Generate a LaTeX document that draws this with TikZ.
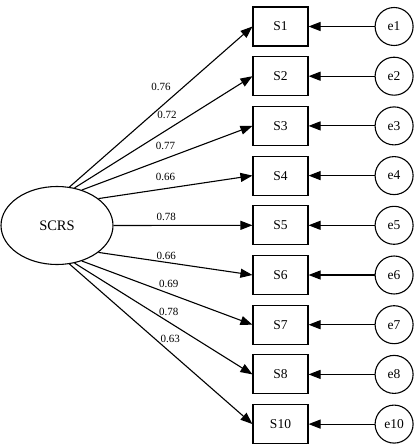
\documentclass[tikz,border=0pt]{standalone}
\usepackage{fontspec}
\setmainfont{Liberation Serif}
\usetikzlibrary{shapes.geometric, arrows.meta, positioning}
\tikzset{
    latent/.style={
        ellipse, minimum width=112pt, minimum height=78pt, inner sep=0pt,
        draw=black, line width=1.1pt, font=\fontsize{14.5}{16}\selectfont
    },
    observed/.style={
        rectangle, minimum width=55pt, minimum height=39pt, inner sep=0pt,
        draw=black, line width=1.1pt, font=\fontsize{13.5}{15}\selectfont
    },
    errvar/.style={
        circle, minimum size=38pt, inner sep=0pt,
        draw=black, line width=1.1pt, font=\fontsize{13.5}{15}\selectfont
    },
    regpath/.style={
        -{Triangle[length=12pt, width=9pt]}, line width=1.1pt, draw=black
    },
    loading/.style={
        inner sep=0pt, font=\fontsize{11}{12}\selectfont
    }
}

\begin{document}
\begin{tikzpicture}[x=1pt, y=-1pt, node distance=9.6pt and 66pt]
    \useasboundingbox (0,0) rectangle (419,448);

    % ── Latent factor ──
    \node[latent] (scrs) at (57,225.5) {SCRS};

    % ── Indicators ──
    \node[observed] (s1) at (280.5,26.5) {S1};
    \node[observed, below=of s1]  (s2)  {S2};
    \node[observed, below=of s2]  (s3)  {S3};
    \node[observed, below=of s3]  (s4)  {S4};
    \node[observed, below=of s4]  (s5)  {S5};
    \node[observed, below=of s5]  (s6)  {S6};
    \node[observed, below=of s6]  (s7)  {S7};
    \node[observed, below=of s7]  (s8)  {S8};
    \node[observed, below=of s8]  (s10) {S10};

    % ── Error terms ──
    \foreach \i in {1,...,8,10}
        \node[errvar, right=of s\i] (e\i) {e\i};

    % ── Loadings ──
    \foreach \s/\ang/\val/\p/\dy in {s1/72/0.76/0.50/20, s2/65/0.72/0.52/14.6,
            s3/55.6/0.77/0.49/13, s4/33/0.66/0.435/11.4, s5/0/0.78/0.38/8.5,
            s6/-33/0.66/0.44/6.7, s7/-55.6/0.69/0.51/10, s8/-65/0.78/0.53/10.6,
            s10/-72/0.63/0.55/13}
        \draw[regpath] (scrs.\ang) -- node[loading, pos=\p, yshift=\dy pt] (w\s) {\val} (\s.west);

    % ── Error arrows ──
    \foreach \i in {1,...,8,10}
        \draw[regpath] (e\i) -- (s\i);

\end{tikzpicture}
\end{document}
